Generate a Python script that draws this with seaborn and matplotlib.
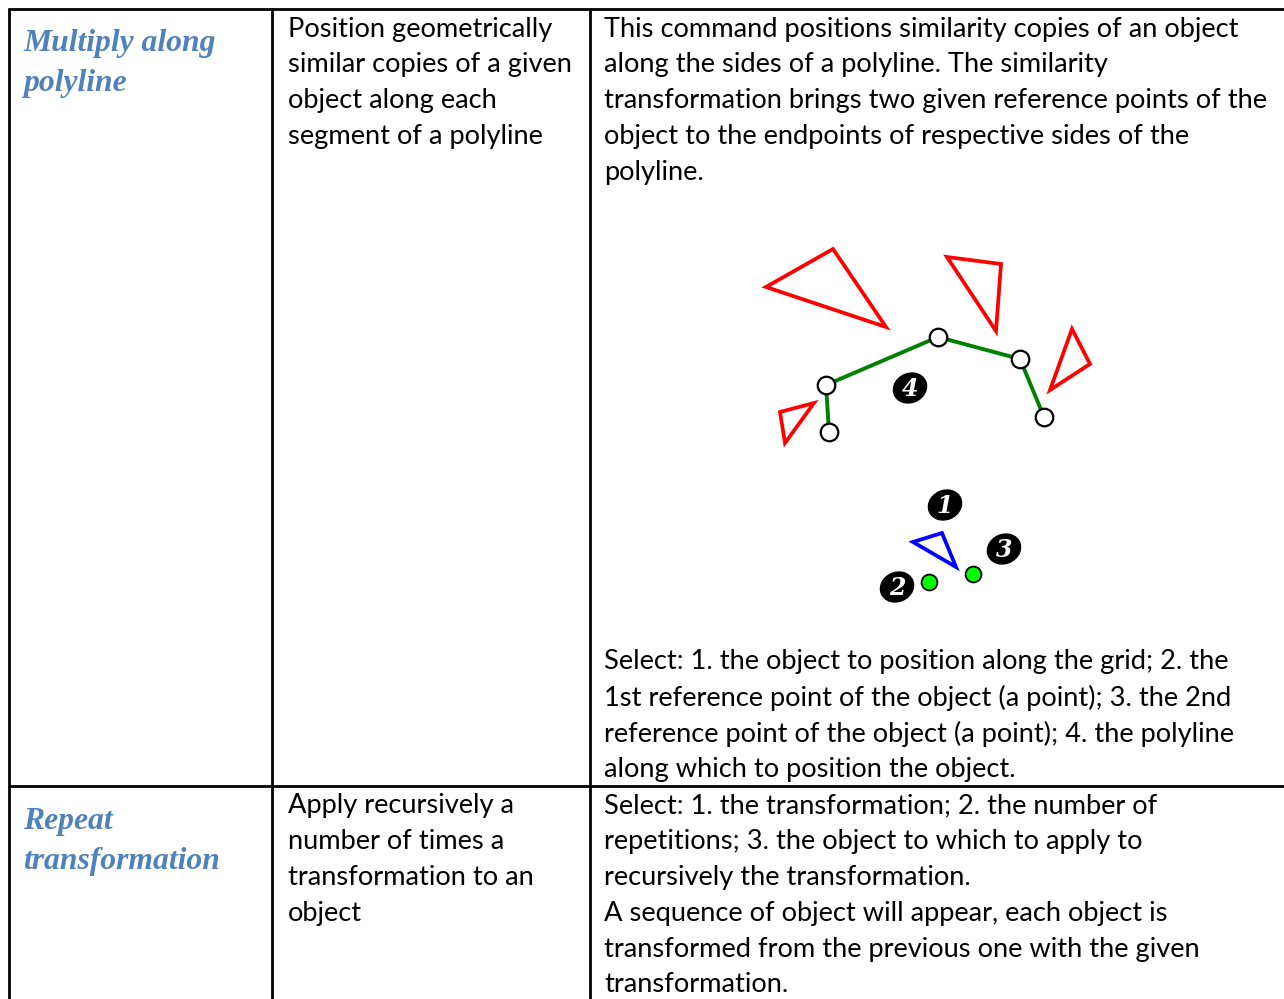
import matplotlib
matplotlib.use("Agg")
from matplotlib import pyplot as plt
from matplotlib.patches import Ellipse
import seaborn as sns

sns.set_theme(style="white")
plt.rcParams['font.family'] = ['Lato', 'DejaVu Sans']

# table text
row1_name = ["Multiply along", "polyline"]
row1_desc = ["Position geometrically", "similar copies of a given",
             "object along each", "segment of a polyline"]
row1_help_top = ["This command positions similarity copies of an object",
                 "along the sides of a polyline. The similarity",
                 "transformation brings two given reference points of the",
                 "object to the endpoints of respective sides of the",
                 "polyline."]
row1_help_bottom = ["Select: 1. the object to position along the grid; 2. the",
                    "1st reference point of the object (a point); 3. the 2nd",
                    "reference point of the object (a point); 4. the polyline",
                    "along which to position the object."]
row2_name = ["Repeat", "transformation"]
row2_desc = ["Apply recursively a", "number of times a",
             "transformation to an", "object"]
row2_help = ["Select: 1. the transformation; 2. the number of",
             "repetitions; 3. the object to which to apply to",
             "recursively the transformation.",
             "A sequence of object will appear, each object is",
             "transformed from the previous one with the given",
             "transformation."]

# diagram geometry (pixel space of the page)
poly_x = [829, 826, 938, 1020, 1044]
poly_y = [432, 385, 337, 359, 417]
red_tris = [
    ([766, 833, 886], [287, 249, 327]),
    ([947, 1001, 996], [257, 264, 331]),
    ([1072, 1090, 1050], [329, 364, 390]),
    ([780, 814, 785], [412, 403, 443]),
]
blue_tri = ([913, 942, 956], [542, 533, 567])
ref_x = [929, 973]
ref_y = [582, 574]
badges = [("1", 945, 505), ("2", 897, 587), ("3", 1004, 549), ("4", 910, 388)]

fig = plt.figure(figsize=(12.84, 9.99), dpi=100)
ax = fig.add_axes([0, 0, 1, 1])
ax.set_xlim(0, 1284)
ax.set_ylim(999, 0)
ax.axis('off')

# grid lines of the table
lw = 2.0
ax.plot([9, 1284], [9, 9], color='black', lw=lw)
ax.plot([9, 1284], [786, 786], color='black', lw=lw)
for x in [9, 272, 590]:
    ax.plot([x, x], [9, 999], color='black', lw=lw)

body = dict(fontsize=19.6, color='black', va='center', ha='left')
title = dict(fontsize=22.8, color='#4F81BD', va='center', ha='left',
             family='Liberation Serif', fontweight='bold', style='italic')
step = 35.8

for i, s in enumerate(row1_name):
    ax.text(23, 44 + 39 * i, s, **title)
for i, s in enumerate(row2_name):
    ax.text(23, 822 + 39 * i, s, **title)
for i, s in enumerate(row1_desc):
    ax.text(288, 29 + step * i, s, **body)
for i, s in enumerate(row1_help_top):
    ax.text(604, 29 + step * i, s, **body)
for i, s in enumerate(row1_help_bottom):
    ax.text(604, 662 + step * i, s, **body)
for i, s in enumerate(row2_desc):
    ax.text(288, 806 + step * i, s, **body)
for i, s in enumerate(row2_help):
    ax.text(604, 806 + step * i, s, **body)

# diagram
for tx, ty in red_tris:
    ax.fill(tx, ty, fill=False, edgecolor='#FF0000', lw=2.7, joinstyle='miter')
ax.fill(blue_tri[0], blue_tri[1], fill=False, edgecolor='#0000FF', lw=2.7, joinstyle='miter')
sns.lineplot(x=poly_x, y=poly_y, sort=False, estimator=None, color='#008000',
             lw=2.8, ax=ax)
sns.scatterplot(x=poly_x, y=poly_y, s=160, color='white', edgecolor='black',
                linewidth=1.6, ax=ax, zorder=5)
sns.scatterplot(x=ref_x, y=ref_y, s=130, color='#00FF00', edgecolor='black',
                linewidth=1.3, ax=ax, zorder=5)
for lab, bx, by in badges:
    ax.add_patch(Ellipse((bx, by), 34, 29, angle=-25, color='black', zorder=6))
    ax.text(bx, by + 1, lab, color='white', fontsize=17, fontweight='bold',
            style='italic', family='DejaVu Serif', ha='center', va='center', zorder=7)

fig.savefig('out.png', dpi=100)
